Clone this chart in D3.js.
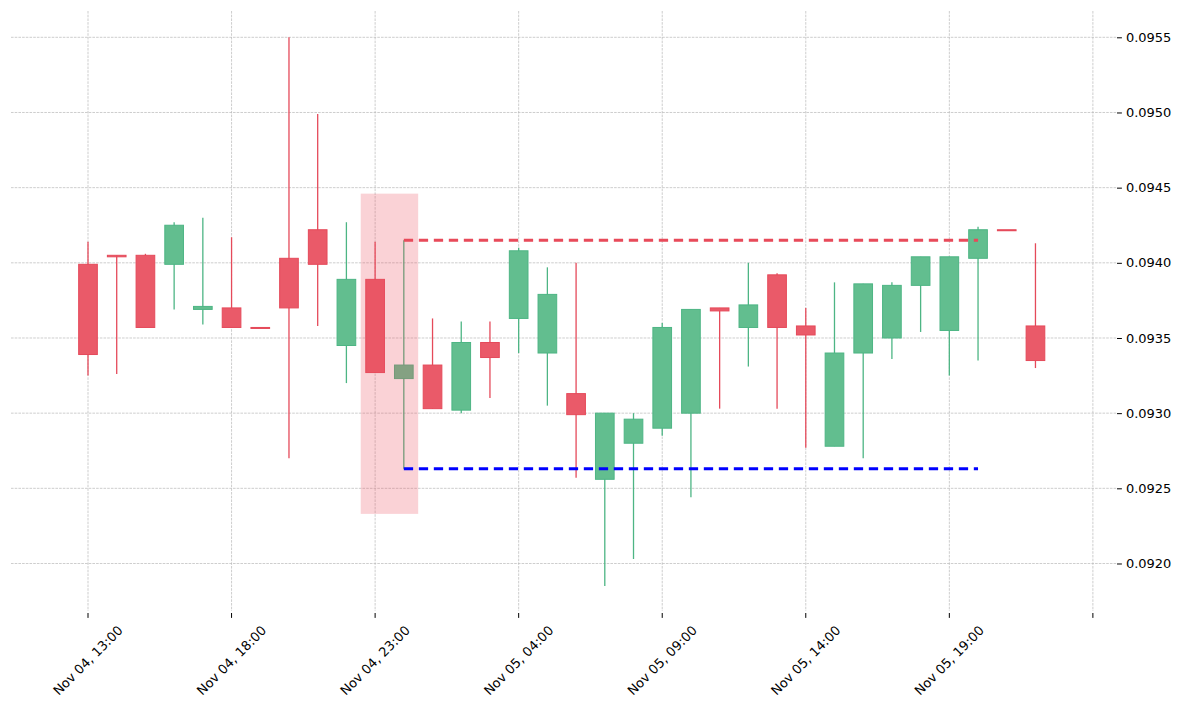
<!DOCTYPE html>
<html>
<head>
<meta charset="utf-8">
<script src="https://cdn.jsdelivr.net/npm/d3@7"></script>
<style>
  body { margin: 0; background: #fff; }
  svg { display: block; font-family: "DejaVu Sans", sans-serif; }
</style>
</head>
<body>
<div id="chart"></div>
<script>
const times = [
    "Nov 04, 13:00", "Nov 04, 14:00", "Nov 04, 15:00", "Nov 04, 16:00", "Nov 04, 17:00",
    "Nov 04, 18:00", "Nov 04, 19:00", "Nov 04, 20:00", "Nov 04, 21:00", "Nov 04, 22:00",
    "Nov 04, 23:00", "Nov 05, 00:00", "Nov 05, 01:00", "Nov 05, 02:00", "Nov 05, 03:00",
    "Nov 05, 04:00", "Nov 05, 05:00", "Nov 05, 06:00", "Nov 05, 07:00", "Nov 05, 08:00",
    "Nov 05, 09:00", "Nov 05, 10:00", "Nov 05, 11:00", "Nov 05, 12:00", "Nov 05, 13:00",
    "Nov 05, 14:00", "Nov 05, 15:00", "Nov 05, 16:00", "Nov 05, 17:00", "Nov 05, 18:00",
    "Nov 05, 19:00", "Nov 05, 20:00", "Nov 05, 21:00", "Nov 05, 22:00"
];
const opens = [
    0.09399, 0.09405, 0.09405, 0.09399, 0.09369, 0.09370, 0.09357, 0.09403, 0.09422, 0.09345,
    0.09389, 0.09323, 0.09332, 0.09302, 0.09347, 0.09363, 0.09340, 0.09313, 0.09256, 0.09280,
    0.09290, 0.09300, 0.09370, 0.09357, 0.09392, 0.09358, 0.09278, 0.09340, 0.09350, 0.09385,
    0.09355, 0.09403, 0.09422, 0.09358
];
const highs = [
    0.09414, 0.09405, 0.09406, 0.09427, 0.09430, 0.09417, 0.09357, 0.09550, 0.09499, 0.09427,
    0.09414, 0.09415, 0.09363, 0.09361, 0.09361, 0.09410, 0.09397, 0.09400, 0.09300, 0.09300,
    0.09360, 0.09369, 0.09370, 0.09400, 0.09393, 0.09370, 0.09387, 0.09386, 0.09387, 0.09404,
    0.09404, 0.09424, 0.09422, 0.09413
];
const lows = [
    0.09325, 0.09326, 0.09357, 0.09369, 0.09359, 0.09357, 0.09357, 0.09270, 0.09358, 0.09320,
    0.09327, 0.09263, 0.09303, 0.09300, 0.09310, 0.09340, 0.09305, 0.09257, 0.09185, 0.09203,
    0.09285, 0.09244, 0.09303, 0.09331, 0.09303, 0.09277, 0.09278, 0.09270, 0.09336, 0.09354,
    0.09325, 0.09335, 0.09422, 0.09330
];
const closes = [
    0.09339, 0.09404, 0.09357, 0.09425, 0.09371, 0.09357, 0.09357, 0.09370, 0.09399, 0.09389,
    0.09327, 0.09332, 0.09303, 0.09347, 0.09337, 0.09408, 0.09379, 0.09299, 0.09300, 0.09296,
    0.09357, 0.09369, 0.09368, 0.09372, 0.09357, 0.09352, 0.09340, 0.09386, 0.09385, 0.09404,
    0.09404, 0.09422, 0.09422, 0.09335
];

// x ticks every 5 candles, last one falls past the data
const xTickIdx = [0, 5, 10, 15, 20, 25, 30, 35];
const yTicks = [0.0920, 0.0925, 0.0930, 0.0935, 0.0940, 0.0945, 0.0950, 0.0955];

// pattern zone and levels
const zoneIdx = [10, 11];
const zoneRange = [0.09233, 0.09446];
const resistance = 0.09415;
const support = 0.09263;
const levelSpan = [11, 31];

const W = 1188, H = 712;
const plot = { left: 11, right: 1117, top: 11, bottom: 611 };

const svg = d3.select("#chart").append("svg")
    .attr("width", W)
    .attr("height", H);

const x = d3.scaleLinear().domain([-2.682, 35.84]).range([plot.left, plot.right]);
const y = d3.scaleLinear().domain([0.091684, 0.095675]).range([plot.bottom, plot.top]);

const up = { fill: "#62be8f", stroke: "#4db584" };
const down = { fill: "#ea5a69", stroke: "#e54a5a" };

// grid
const grid = svg.append("g")
    .attr("stroke", "#b8b8b8")
    .attr("stroke-width", 0.7)
    .attr("stroke-dasharray", "2.6,1.1");

grid.selectAll("line.h").data(yTicks).enter().append("line")
    .attr("x1", plot.left).attr("x2", plot.right)
    .attr("y1", d => y(d)).attr("y2", d => y(d));

grid.selectAll("line.v").data(xTickIdx).enter().append("line")
    .attr("x1", d => x(d)).attr("x2", d => x(d))
    .attr("y1", plot.top).attr("y2", plot.bottom);

// candles
const candles = times.map((t, i) => ({
    i, t, o: opens[i], h: highs[i], l: lows[i], c: closes[i]
}));
const bodyW = x(0.65) - x(0);

const cg = svg.append("g");
cg.selectAll("line.wick").data(candles).enter().append("line")
    .attr("x1", d => x(d.i)).attr("x2", d => x(d.i))
    .attr("y1", d => y(d.h)).attr("y2", d => y(d.l))
    .attr("stroke", d => d.c > d.o ? up.stroke : down.stroke)
    .attr("stroke-width", 1.3);

cg.selectAll("rect.body").data(candles).enter().append("rect")
    .attr("x", d => x(d.i) - bodyW / 2)
    .attr("width", bodyW)
    .attr("y", d => y(Math.max(d.o, d.c)))
    .attr("height", d => Math.max(1, Math.abs(y(d.o) - y(d.c))))
    .attr("fill", d => d.c > d.o ? up.fill : down.fill)
    .attr("stroke", d => d.c > d.o ? up.stroke : down.stroke)
    .attr("stroke-width", 1);

// highlighted zone (drawn over the candles, translucent)
svg.append("rect")
    .attr("x", x(zoneIdx[0] - 0.5))
    .attr("width", x(zoneIdx[1] + 0.5) - x(zoneIdx[0] - 0.5))
    .attr("y", y(zoneRange[1]))
    .attr("height", y(zoneRange[0]) - y(zoneRange[1]))
    .attr("fill", "#eb4d5c")
    .attr("fill-opacity", 0.25);

// levels
svg.append("line")
    .attr("x1", x(levelSpan[0])).attr("x2", x(levelSpan[1]))
    .attr("y1", y(resistance)).attr("y2", y(resistance))
    .attr("stroke", "#e84a5a")
    .attr("stroke-width", 3)
    .attr("stroke-dasharray", "9.3,5.7");

svg.append("line")
    .attr("x1", x(levelSpan[0])).attr("x2", x(levelSpan[1]))
    .attr("y1", y(support)).attr("y2", y(support))
    .attr("stroke", "#0000ff")
    .attr("stroke-width", 3)
    .attr("stroke-dasharray", "9.3,5.7");

// y axis on the right
const yAxis = svg.append("g")
    .attr("transform", `translate(${plot.right},0)`)
    .call(d3.axisRight(y).tickValues(yTicks).tickFormat(d3.format(".4f")).tickSize(4.9).tickPadding(4));
yAxis.select(".domain").remove();
yAxis.selectAll("text")
    .attr("font-size", "13px")
    .attr("font-family", "DejaVu Sans, sans-serif")
    .attr("fill", "#000");
yAxis.selectAll("line").attr("stroke", "#000");

// x axis, ticks only, rotated labels centred on the tick
const xAxis = svg.append("g")
    .attr("transform", `translate(0,${plot.bottom + 2})`);
xAxis.selectAll("line").data(xTickIdx).enter().append("line")
    .attr("x1", d => x(d)).attr("x2", d => x(d))
    .attr("y1", 0).attr("y2", 4.9)
    .attr("stroke", "#000");

const labels = xAxis.selectAll("text")
    .data(xTickIdx.filter(d => d < times.length))
    .enter().append("text")
    .attr("font-size", "13px")
    .attr("fill", "#000")
    .attr("text-anchor", "middle")
    .attr("dominant-baseline", "central")
    .text(d => times[d]);

labels.attr("transform", function(d) {
    const L = this.getComputedTextLength();
    const half = (L + 13) * Math.SQRT1_2 / 2;
    return `translate(${x(d)},${4.9 + 5.5 + half}) rotate(-45)`;
});
</script>
</body>
</html>
